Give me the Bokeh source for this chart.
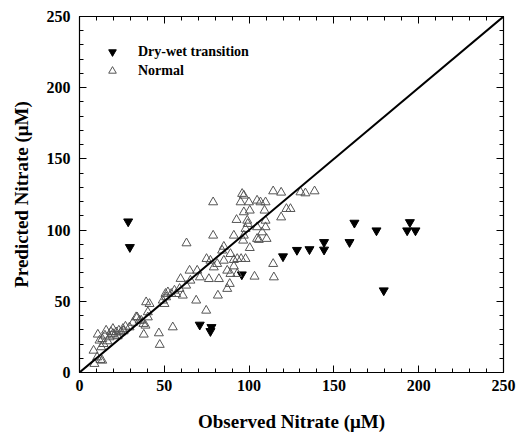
from bokeh.plotting import figure
from bokeh.models import Range1d, LinearAxis, SingleIntervalTicker, Slope, CustomJSTickFormatter
from bokeh.embed import file_html
from bokeh.resources import INLINE

# Dry-wet transition samples (observed, predicted)
dw_obs = [28.7, 29.7, 70.9, 77.8, 77.2, 95.7, 120.0, 128.2, 135.6, 144.2, 144.2,
          159.2, 162.1, 175.1, 179.4, 194.8, 193.2, 198.1]
dw_pred = [106.0, 88.0, 33.5, 31.8, 29.0, 68.8, 81.5, 86.0, 86.5, 91.5, 86.2,
           91.5, 105.1, 99.7, 57.6, 105.5, 99.7, 99.7]

# Normal samples (observed, predicted)
nm_obs = [8.8, 8.3, 12.4, 13.4, 10.4, 10.8, 11.8, 12.8, 13.4, 14.2, 15.7, 16.5, 17.7,
          19.7, 19.7, 21.6, 22.5, 23.2, 24.6, 25.6, 27.1, 29.5,
          31.5, 33.4, 34.0, 35.4, 36.4, 37.7, 38.9, 37.9, 39.3, 41.3, 40.3, 40.3, 46.8,
          47.3, 55.0, 49.1, 50.1, 51.1, 52.1, 50.7, 54.1, 56.0, 57.0, 59.0, 59.6, 60.9,
          62.9, 64.9, 63.1, 68.8, 74.7,
          78.8, 95.9, 96.9, 95.0, 99.9, 104.7, 106.7, 109.7, 114.2, 118.9, 130.3, 133.2,
          138.6, 96.9, 100.4, 109.1, 122.0, 124.4, 92.6, 98.9, 99.2, 109.7, 118.9, 97.9,
          104.7, 109.7, 96.9, 107.7, 78.8, 91.0, 96.5, 104.7, 105.7, 110.3, 100.4, 85.1,
          84.1, 74.9, 77.2, 79.2, 81.2, 85.1, 89.0, 91.0, 93.0, 95.3, 97.9, 91.0, 69.4,
          65.4, 71.0, 76.3, 82.2, 87.1, 89.0, 93.0, 88.6, 87.1, 81.6, 103.2, 114.6, 114.2,
          15.0, 18.5, 20.5, 26.0]
nm_pred = [6.1, 15.4, 8.9, 8.4, 10.7, 26.7, 22.5, 17.8, 23.6, 20.1, 29.5, 22.0, 24.8,
           27.2, 30.7, 28.3, 25.5, 29.5, 28.3, 30.7, 32.3, 31.8,
           35.0, 38.9, 38.8, 36.5, 36.5, 34.2, 33.0, 26.7, 49.4, 48.2, 42.4, 38.8, 27.6,
           19.5, 31.8, 50.6, 48.2, 52.9, 56.4, 55.3, 55.3, 57.6, 55.2, 58.8, 65.8, 54.1,
           61.1, 71.6, 90.8, 50.6, 43.5,
           119.6, 125.5, 124.3, 119.6, 119.6, 120.8, 119.6, 119.6, 127.3, 126.4, 126.6, 125.9,
           127.3, 112.6, 113.8, 113.8, 114.9, 114.9, 107.2, 106.7, 104.4, 106.7, 109.0, 100.9,
           102.1, 102.1, 96.2, 98.5, 96.2, 96.2, 92.7, 93.9, 93.2, 93.9, 87.5, 88.4,
           85.7, 79.8, 78.6, 73.9, 76.3, 78.6, 83.3, 79.1, 79.8, 79.8, 79.8, 74.6, 71.6,
           64.6, 66.9, 65.7, 65.7, 71.6, 69.3, 69.3, 62.3, 58.8, 54.1, 67.4, 66.9, 76.3,
           26.0, 28.5, 26.0, 29.0]

FONT = "Liberation Serif"

p = figure(width=518, height=436,
           x_range=Range1d(0, 250), y_range=Range1d(0, 250),
           output_backend="svg", toolbar_location=None,
           min_border_left=79, min_border_top=16, min_border_right=15, min_border_bottom=64,
           x_axis_label="Observed Nitrate (\u03bcM)", y_axis_label="Predicted Nitrate (\u03bcM)")
p.xgrid.visible = False
p.ygrid.visible = False
p.outline_line_color = "black"
p.outline_line_width = 1.2
p.background_fill_color = "white"
p.border_fill_color = "white"

def style_axis(ax, labels=True):
    ax.ticker = SingleIntervalTicker(interval=50, num_minor_ticks=5)
    ax.axis_line_color = "black"
    ax.major_tick_in = 7
    ax.major_tick_out = 0
    ax.minor_tick_in = 4
    ax.minor_tick_out = 0
    ax.major_tick_line_color = "black"
    ax.minor_tick_line_color = "black"
    if labels:
        ax.major_label_text_font = FONT
        ax.major_label_text_font_style = "bold"
        ax.major_label_text_font_size = "16px"
        ax.major_label_text_color = "black"
        ax.axis_label_text_font = FONT
        ax.axis_label_text_font_style = "bold"
        ax.axis_label_text_font_size = "19px"
        ax.axis_label_text_color = "black"
    else:
        ax.formatter = CustomJSTickFormatter(code="return ''")
        ax.major_label_standoff = 0
        ax.axis_label = None

style_axis(p.xaxis[0])
style_axis(p.yaxis[0])
p.xaxis[0].major_label_standoff = 7
p.xaxis[0].axis_label_standoff = 17
p.yaxis[0].major_label_standoff = 9
p.yaxis[0].axis_label_standoff = 12

top_ax = LinearAxis()
style_axis(top_ax, labels=False)
p.add_layout(top_ax, "above")
right_ax = LinearAxis()
style_axis(right_ax, labels=False)
p.add_layout(right_ax, "right")

p.add_layout(Slope(gradient=1, y_intercept=0, line_color="black", line_width=2))

p.scatter(dw_obs, dw_pred, marker="inverted_triangle", size=9,
          fill_color="black", line_color="black", legend_label="Dry-wet transition")
p.scatter(nm_obs, nm_pred, marker="triangle", size=9, fill_color=None,
          line_color="#555555", line_width=1, legend_label="Normal")

lg = p.legend[0]
lg.location = (10, 279)
lg.border_line_alpha = 0
lg.background_fill_alpha = 0
lg.label_text_font = FONT
lg.label_text_font_style = "bold"
lg.label_text_font_size = "14px"
lg.label_text_color = "black"
lg.margin = 0
lg.padding = 13
lg.spacing = 0
lg.glyph_width = 20
lg.glyph_height = 19
lg.label_height = 19
lg.label_standoff = 16

open("out.html", "w").write(file_html(p, INLINE))
